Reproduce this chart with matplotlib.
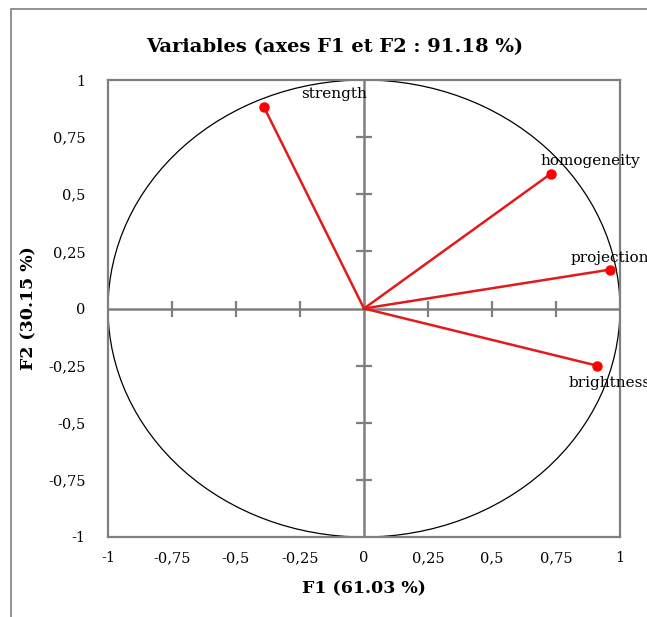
import numpy as np
import matplotlib

matplotlib.use('Agg')
import matplotlib.pyplot as plt
from matplotlib.patches import Circle, Rectangle

variables = ['strength', 'homogeneity', 'projection', 'brightness']
f1 = [-0.39, 0.73, 0.96, 0.91]
f2 = [0.88, 0.59, 0.17, -0.25]
ticks = [-1, -0.75, -0.5, -0.25, 0, 0.25, 0.5, 0.75, 1]
tick_labels = ['-1', '-0,75', '-0,5', '-0,25', '0', '0,25', '0,5', '0,75', '1']

plt.rcParams['font.family'] = ['DejaVu Serif']

W, H = 647, 617
fig = plt.figure(figsize=(W / 100, H / 100), dpi=100)
fig.patches.append(Rectangle((11 / W, -0.01), 1.0, (H - 9) / H + 0.01,
                             transform=fig.transFigure, fill=False,
                             edgecolor='#7f7f7f', linewidth=1.2))

ax = fig.add_axes([108 / W, 1 - 537 / H, 512 / W, 457 / H])
ax.set_xlim(-1, 1)
ax.set_ylim(-1, 1)
for s in ax.spines.values():
    s.set_color('#7f7f7f')
    s.set_linewidth(1.6)

ax.set_xticks(ticks)
ax.set_xticklabels(tick_labels)
ax.set_yticks(ticks)
ax.set_yticklabels(tick_labels)
ax.tick_params(length=0, labelsize=10.5, pad=10)
ax.tick_params(axis='y', pad=16)

# centre axes with cross ticks
ax.axhline(0, color='#7f7f7f', linewidth=1.8, zorder=1)
ax.axvline(0, color='#7f7f7f', linewidth=1.8, zorder=1)
inner = [t for t in ticks if abs(t) not in (0, 1)]
ax.plot(inner, [0] * len(inner), linestyle='none', marker='|',
        markersize=11, markeredgewidth=1.6, color='#7f7f7f', zorder=1)
ax.plot([0] * len(inner), inner, linestyle='none', marker='_',
        markersize=11, markeredgewidth=1.6, color='#7f7f7f', zorder=1)

ax.add_patch(Circle((0, 0), 1, fill=False, edgecolor='black',
                    linewidth=0.9, zorder=2))

for name, x, y in zip(variables, f1, f2):
    ax.plot([0, x], [0, y], color='#e31a1c', linewidth=1.8, zorder=3)
    ax.plot(x, y, 'o', color='#ff0000', markersize=6.5, zorder=4)

offsets = {
    'strength': (0.145, 0.03, 'left', 'bottom'),
    'homogeneity': (-0.04, 0.025, 'left', 'bottom'),
    'projection': (-0.155, 0.02, 'left', 'bottom'),
    'brightness': (-0.11, -0.045, 'left', 'top'),
}
for name, x, y in zip(variables, f1, f2):
    dx, dy, ha, va = offsets[name]
    ax.text(x + dx, y + dy, name, ha=ha, va=va, fontsize=11,
            clip_on=False, zorder=5)

fig.text(335 / W, 1 - 47 / H, 'Variables (axes F1 et F2 : 91.18 %)',
         fontsize=14, fontweight='bold', ha='center', va='center')
ax.set_xlabel('F1 (61.03 %)', fontsize=12.5, fontweight='bold', labelpad=11)
ax.set_ylabel('F2 (30.15 %)', fontsize=12.5, fontweight='bold', labelpad=8)

fig.savefig('out.png', dpi=100)
